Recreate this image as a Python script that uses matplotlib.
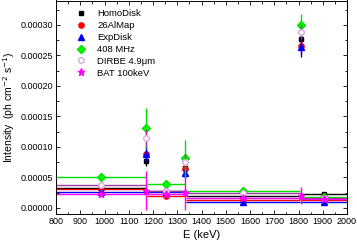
import matplotlib
matplotlib.use("Agg")
import matplotlib.pyplot as plt
from matplotlib.ticker import MultipleLocator
import numpy as np

plt.rcParams['font.family'] = ['Liberation Sans', 'DejaVu Sans']

# energy positions (keV) and half bin widths
energies = [985, 1173, 1252, 1332, 1570, 1809, 1905]
half_widths = [185, 0, 78, 0, 235, 0, 95]

series_names = ["HomoDisk", "26AlMap", "ExpDisk", "408 MHz", "DIRBE 4.9\u03bcm", "BAT 100keV"]

homodisk = [3.3e-5, 7.7e-5, 2.7e-5, 6.6e-5, 2.0e-5, 2.77e-4, 2.2e-5]
homodisk_err = [2e-6, 8e-6, 2e-6, 6e-6, 2e-6, 8e-6, 2e-6]

al26map = [3.1e-5, 8.8e-5, 2.0e-5, 6.4e-5, 1.3e-5, 2.65e-4, 1.25e-5]
al26map_err = [2e-6, 8e-6, 2e-6, 6e-6, 2e-6, 1.2e-5, 2e-6]

expdisk = [2.6e-5, 8.9e-5, 2.6e-5, 5.7e-5, 0.9e-5, 2.64e-4, 0.95e-5]
expdisk_err = [2e-6, 1.2e-5, 2e-6, 8e-6, 2e-6, 1.6e-5, 2e-6]

mhz408 = [5.0e-5, 1.31e-4, 3.9e-5, 8.1e-5, 2.7e-5, 3.0e-4, 1.8e-5]
mhz408_err = [3e-6, 3.2e-5, 3e-6, 3e-5, 3e-6, 1.8e-5, 3e-6]

dirbe = [3.7e-5, 1.15e-4, 2.8e-5, 7.6e-5, 2.4e-5, 2.89e-4, 1.7e-5]
dirbe_err = [2e-6, 1.5e-5, 2e-6, 1.2e-5, 2e-6, 1.2e-5, 2e-6]

bat = [2.3e-5, 2.8e-5, 2.2e-5, 2.4e-5, 1.6e-5, 2.0e-5, 1.4e-5]
bat_err = [2e-6, 3.2e-5, 2e-6, 2.7e-5, 2e-6, 1.4e-5, 2e-6]

W, H = 357, 247
fig = plt.figure(figsize=(W / 100, H / 100), dpi=100)
ax = fig.add_axes([56 / W, 1 - 214 / H, (347 - 56) / W, (214 - 0.5) / H])

styles = [
    (homodisk, homodisk_err, dict(color='black', marker='s', mfc='black', mec='black', ms=3.5)),
    (al26map, al26map_err, dict(color='red', marker='o', mfc='red', mec='red', ms=3.8)),
    (expdisk, expdisk_err, dict(color='blue', marker='^', mfc='blue', mec='blue', ms=4.2)),
    (mhz408, mhz408_err, dict(color='#00E000', marker='D', mfc='#00FF00', mec='#00E000', ms=3.6)),
    (dirbe, dirbe_err, dict(color='#9A3C9A', marker='o', mfc='white', mec='#D8A8E0', ms=4.0)),
    (bat, bat_err, dict(color='#FF00FF', marker='*', mfc='#FF00FF', mec='#FF00FF', ms=5.2)),
]

for name, (vals, errs, st) in zip(series_names, styles):
    c = st.pop('color')
    ax.errorbar(energies, vals, xerr=half_widths, yerr=errs, fmt='none',
                ecolor=c, elinewidth=1.0, capsize=0)
    ax.plot(energies, vals, linestyle='none', label=name, **st)

ax.set_xlim(800, 2000)
ax.set_ylim(-1e-5, 3.4e-4)
ax.xaxis.set_major_locator(MultipleLocator(100))
ax.xaxis.set_minor_locator(MultipleLocator(50))
ax.yaxis.set_major_locator(MultipleLocator(5e-5))
ax.yaxis.set_minor_locator(MultipleLocator(2.5e-5))
ax.yaxis.set_major_formatter(matplotlib.ticker.FuncFormatter(lambda v, p: f"{v:.5f}"))
ax.tick_params(which='both', direction='in', top=True, right=True, labelsize=6.5, pad=2)
ax.tick_params(which='major', length=3, width=0.6)
ax.tick_params(which='minor', length=1.8, width=0.6)
for s in ax.spines.values():
    s.set_linewidth(0.7)

ax.set_xlabel("E (keV)", fontsize=8, labelpad=3)
ax.set_ylabel("Intensity  (ph cm$^{-2}$ s$^{-1}$)", fontsize=7.5, labelpad=3)

leg = ax.legend(loc='upper left', bbox_to_anchor=(0.05, 0.985), frameon=False,
                fontsize=6.8, handlelength=1.0, handletextpad=1.2,
                labelspacing=0.3, borderaxespad=0.2)

fig.savefig("out.png", dpi=100)
